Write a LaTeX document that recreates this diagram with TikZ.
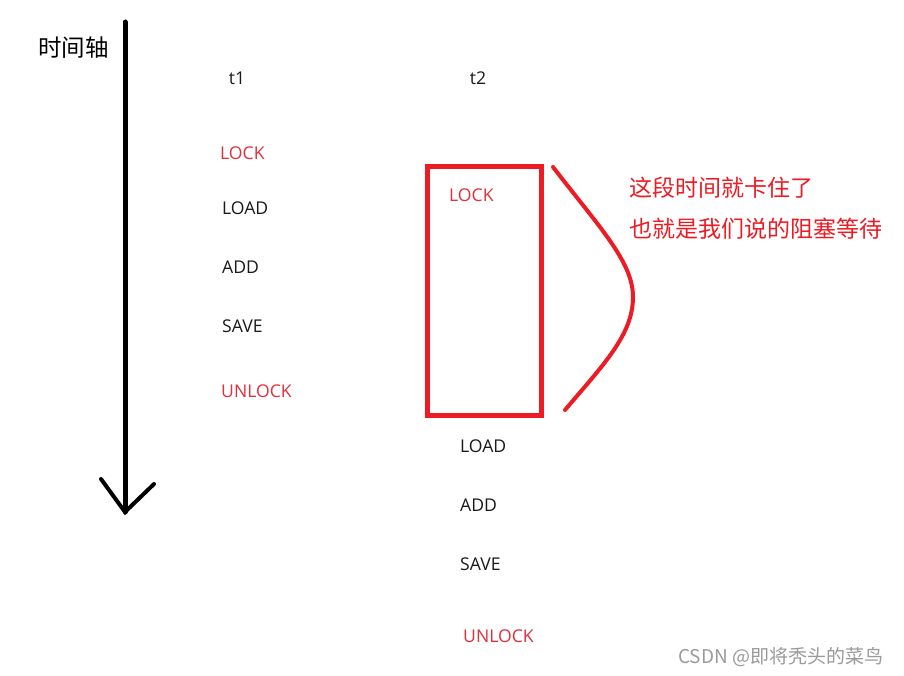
\documentclass[tikz,border=0pt]{standalone}
\usepackage{fontspec}
\setmainfont{Open Sans}
\newfontfamily\cjk{Noto Sans CJK SC}
\definecolor{boxred}{HTML}{ED1C24}
\definecolor{lblred}{HTML}{E0303C}
\definecolor{txt}{HTML}{1A1A1A}
\definecolor{wm}{HTML}{9A9A9A}
\begin{document}
\begin{tikzpicture}[x=1pt,y=-1pt,
  lbl/.style={anchor=west,inner sep=0pt,text=txt,font=\fontsize{17.6}{20}\selectfont},
  redlbl/.style={lbl,text=lblred},
  note/.style={anchor=west,inner sep=0pt,text=boxred,font=\cjk\fontsize{23}{27}\selectfont}]
\useasboundingbox[fill=white] (0,0) rectangle (904,676);
% time axis
\coordinate (axtop) at (125,22);
\coordinate (axtip) at (125,512);
\coordinate (axl) at (101,479);
\coordinate (axr) at (154,484);
\draw[line width=5pt,line cap=round] (axtop) -- (axtip);
\draw[line width=4pt,line cap=round,line join=miter] (axl) -- (axtip) -- (axr);
\node[anchor=west,inner sep=0pt,font=\cjk\fontsize{23.5}{27}\selectfont] (axlabel) at (38,48) {时间轴};
% thread headers
\node[lbl,anchor=center] (t1) at (237,78) {t1};
\node[lbl,anchor=center] (t2) at (478,78) {t2};
% thread 1
\node[redlbl] (l1) at (220,153) {LOCK};
\node[lbl] (ld1) at (222,208) {LOAD};
\node[lbl] (ad1) at (222,267) {ADD};
\node[lbl] (sv1) at (222,326) {SAVE};
\node[redlbl] (ul1) at (221,391) {UNLOCK};
% thread 2
\node[draw=boxred,line width=5pt,outer sep=0pt,minimum width=114pt,minimum height=248.5pt,inner sep=0pt,anchor=north west] (blk) at (427.5,166.5) {};
\node[redlbl] (l2) at (449,195) {LOCK};
\node[lbl] (ld2) at (460,446) {LOAD};
\node[lbl] (ad2) at (460,505) {ADD};
\node[lbl] (sv2) at (460,564) {SAVE};
\node[redlbl] (ul2) at (463,636) {UNLOCK};
% brace curve
\coordinate (c1) at (553,167);
\coordinate (c2) at (633,297);
\coordinate (c3) at (565,410);
\draw[boxred,line width=4pt,line cap=round] (c1) .. controls (600,228) and (633,262) .. (c2) .. controls (633,335) and (603,365) .. (c3);
% notes
\node[note] (n1) at (629,188) {这段时间就卡住了};
\node[note] (n2) at (629,229) {也就是我们说的阻塞等待};
% watermark
\node[anchor=west,inner sep=0pt,text=wm,font=\cjk\fontsize{19}{22}\selectfont] (wmk) at (678,657) {CSDN @即将秃头的菜鸟};
\end{tikzpicture}
\end{document}
